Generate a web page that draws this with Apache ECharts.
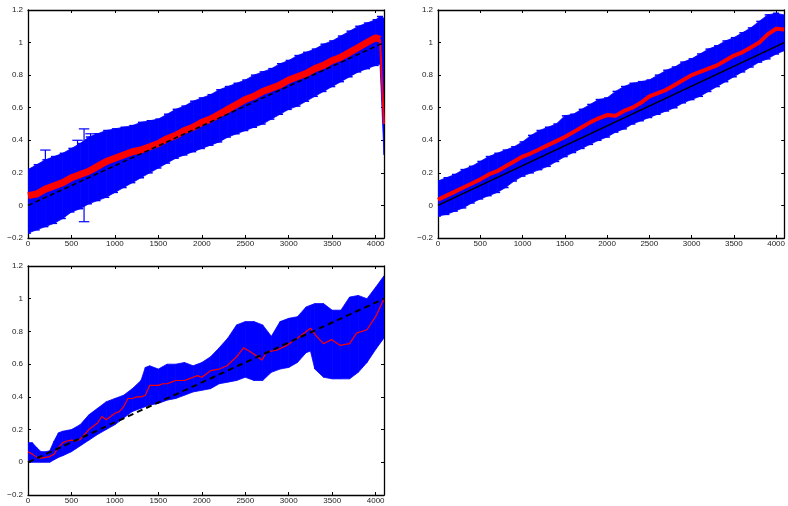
<!DOCTYPE html>
<html>
<head>
<meta charset="utf-8">
<script src="https://cdn.jsdelivr.net/npm/echarts@6/dist/echarts.min.js"></script>
<style>
html,body{margin:0;padding:0;background:#fff;}
#chart{width:788px;height:506px;}
</style>
</head>
<body>
<div id="chart"></div>
<script>
// ---------- tick labels ----------
const xTicks = [0, 500, 1000, 1500, 2000, 2500, 3000, 3500, 4000];
const xTickLabels = ['0', '500', '1000', '1500', '2000', '2500', '3000', '3500', '4000'];
const yTicks = [-0.2, 0, 0.2, 0.4, 0.6, 0.8, 1, 1.2];
const yTickLabels = ['\u22120.2', '0', '0.2', '0.4', '0.6', '0.8', '1', '1.2'];

// ---------- panel 1 (top-left) ----------
const x1 = [0,100,200,300,400,500,600,700,800,900,1000,1100,1200,1300,1400,1500,1600,1700,1800,1900,2000,2100,2200,2300,2400,2500,2600,2700,2800,2900,3000,3100,3200,3300,3400,3500,3600,3700,3800,3900,4000,4050,4096];
const upper1 = [0.22,0.25,0.28,0.30,0.32,0.35,0.38,0.42,0.44,0.46,0.47,0.48,0.49,0.51,0.52,0.53,0.56,0.59,0.61,0.64,0.66,0.68,0.71,0.73,0.75,0.77,0.80,0.82,0.84,0.87,0.89,0.92,0.94,0.96,0.99,1.01,1.04,1.07,1.10,1.12,1.14,1.16,1.15];
const lower1 = [-0.17,-0.15,-0.13,-0.11,-0.08,-0.04,-0.02,0.01,0.03,0.05,0.08,0.11,0.14,0.17,0.20,0.23,0.26,0.29,0.31,0.33,0.35,0.37,0.39,0.42,0.44,0.46,0.48,0.50,0.53,0.56,0.59,0.61,0.64,0.67,0.70,0.73,0.76,0.79,0.82,0.84,0.86,0.87,0.31];
const red1 = [0.06,0.07,0.10,0.12,0.14,0.17,0.19,0.21,0.24,0.27,0.29,0.31,0.33,0.34,0.36,0.38,0.41,0.43,0.46,0.48,0.51,0.53,0.56,0.59,0.62,0.65,0.67,0.70,0.72,0.74,0.77,0.79,0.81,0.84,0.86,0.89,0.91,0.94,0.97,1.00,1.03,1.02,0.50];
const outX1 = [200, 570, 645, 720, 810];
const outLo1 = [0.15, 0.20, -0.10, 0.25, 0.25];
const outHi1 = [0.34, 0.40, 0.47, 0.44, 0.43];

// ---------- panel 2 (top-right) ----------
const x2 = [0,100,200,300,400,500,600,700,800,900,1000,1100,1200,1300,1400,1500,1600,1700,1800,1900,2000,2100,2200,2300,2400,2500,2600,2700,2800,2900,3000,3100,3200,3300,3400,3500,3600,3700,3800,3900,4000,4096];
const upper2 = [0.15,0.17,0.19,0.22,0.24,0.27,0.30,0.32,0.34,0.36,0.39,0.43,0.46,0.48,0.50,0.55,0.56,0.59,0.62,0.65,0.66,0.70,0.73,0.75,0.76,0.77,0.80,0.83,0.85,0.88,0.90,0.93,0.96,0.98,1.01,1.03,1.06,1.09,1.13,1.17,1.18,1.17];
const lower2 = [-0.065,-0.055,-0.035,-0.015,0.015,0.04,0.06,0.08,0.11,0.15,0.18,0.20,0.22,0.24,0.27,0.30,0.325,0.35,0.375,0.40,0.42,0.45,0.47,0.50,0.52,0.54,0.56,0.58,0.60,0.63,0.65,0.67,0.70,0.73,0.76,0.79,0.82,0.85,0.88,0.90,0.93,0.95];
const red2 = [0.035,0.06,0.085,0.11,0.135,0.16,0.19,0.21,0.24,0.27,0.30,0.32,0.345,0.37,0.395,0.42,0.45,0.48,0.51,0.535,0.555,0.55,0.58,0.60,0.63,0.67,0.69,0.71,0.74,0.77,0.80,0.82,0.84,0.86,0.89,0.92,0.94,0.97,1.00,1.05,1.085,1.08];

// ---------- panel 3 (bottom-left) ----------
const x3 = [0,50,100,150,200,250,300,350,400,500,600,700,800,900,1000,1100,1200,1300,1350,1400,1500,1600,1700,1800,1900,2000,2100,2200,2300,2400,2500,2600,2700,2800,2900,3000,3100,3200,3250,3300,3400,3500,3600,3700,3800,3900,4000,4096];
const upper3 = [0.12,0.12,0.09,0.065,0.065,0.07,0.13,0.18,0.19,0.20,0.23,0.29,0.33,0.37,0.39,0.41,0.45,0.50,0.58,0.59,0.57,0.60,0.60,0.61,0.59,0.61,0.645,0.70,0.76,0.84,0.86,0.86,0.84,0.77,0.86,0.88,0.89,0.95,0.96,0.97,0.97,0.93,0.93,1.01,1.02,1.00,1.07,1.14];
const lower3 = [0.0,0.0,0.0,0.0,0.0,0.0,0.015,0.03,0.04,0.065,0.10,0.135,0.17,0.20,0.23,0.27,0.31,0.33,0.34,0.35,0.36,0.38,0.39,0.41,0.43,0.44,0.45,0.48,0.49,0.50,0.52,0.50,0.50,0.55,0.57,0.58,0.61,0.67,0.68,0.57,0.52,0.51,0.51,0.51,0.55,0.61,0.69,0.76];
const x3r = [0,50,100,150,200,250,300,350,400,450,500,550,600,650,700,750,800,850,900,950,1000,1050,1100,1150,1200,1250,1300,1350,1400,1450,1500,1550,1600,1650,1700,1750,1800,1850,1900,1950,2000,2100,2200,2290,2400,2480,2590,2690,2750,2860,2980,3130,3250,3320,3400,3490,3590,3700,3780,3900,4010,4096];
const red3 = [0.065,0.05,0.03,0.025,0.03,0.035,0.05,0.09,0.12,0.13,0.135,0.13,0.14,0.17,0.20,0.22,0.24,0.28,0.26,0.28,0.30,0.31,0.34,0.39,0.39,0.40,0.40,0.41,0.47,0.47,0.47,0.48,0.48,0.49,0.50,0.50,0.50,0.51,0.52,0.53,0.52,0.56,0.57,0.59,0.645,0.70,0.665,0.625,0.675,0.685,0.715,0.77,0.82,0.77,0.725,0.75,0.715,0.725,0.79,0.81,0.90,1.0];

// reference diagonal (same in all panels)
const refX = [0, 4096];
const refY = [0, 1];

// ---------- build ----------
const BLUE = '#0000ff', RED = '#ff0000';
const grids = [
  {left: 28, top: 10, width: 356, height: 228},
  {left: 438, top: 10, width: 356, height: 228},
  {left: 28, top: 266, width: 356, height: 229}
];
const labelFont = {fontSize: 8, color: '#222', fontFamily: 'Liberation Sans, Arial, sans-serif'};

function lookup(ticks, labels) {
  return v => { const i = ticks.findIndex(t => Math.abs(t - v) < 1e-9); return i >= 0 ? labels[i] : ''; };
}

const xAxes = [], yAxes = [];
grids.forEach((g, gi) => {
  ['bottom', 'top'].forEach(pos => {
    xAxes.push({
      gridIndex: gi, type: 'value', min: 0, max: 4096, position: pos,
      axisLine: {show: true, onZero: false, lineStyle: {color: '#000', width: 1.3}},
      axisTick: {show: true, inside: true, length: 3, customValues: xTicks, lineStyle: {color: '#000', width: 1}},
      axisLabel: Object.assign({show: pos === 'bottom', customValues: xTicks, margin: 2,
        formatter: lookup(xTicks, xTickLabels)}, labelFont),
      splitLine: {show: false}
    });
  });
  ['left', 'right'].forEach(pos => {
    yAxes.push({
      gridIndex: gi, type: 'value', min: -0.2, max: 1.2, position: pos,
      axisLine: {show: true, onZero: false, lineStyle: {color: '#000', width: 1.3}},
      axisTick: {show: true, inside: true, length: 3, customValues: yTicks, lineStyle: {color: '#000', width: 1}},
      axisLabel: Object.assign({show: pos === 'left', customValues: yTicks, margin: 5,
        formatter: lookup(yTicks, yTickLabels)}, labelFont),
      splitLine: {show: false}
    });
  });
});

function pairs(xs, ys) { return xs.map((v, i) => [v, ys[i]]); }

// band of trapezoids between successive samples, optionally with error-bar caps
function band(gi, xs, lo, hi, capHalf) {
  const data = [];
  for (let i = 0; i < xs.length - 1; i++) data.push([xs[i], lo[i], hi[i], xs[i + 1], lo[i + 1], hi[i + 1]]);
  return {
    type: 'custom', xAxisIndex: gi * 2, yAxisIndex: gi * 2, clip: true, silent: true,
    encode: {x: [0, 3], y: [1, 2, 4, 5]},
    data: data,
    renderItem: (params, api) => {
      const p1 = api.coord([api.value(0), api.value(1)]);
      const p2 = api.coord([api.value(0), api.value(2)]);
      const p3 = api.coord([api.value(3), api.value(5)]);
      const p4 = api.coord([api.value(3), api.value(4)]);
      const children = [{type: 'polygon', shape: {points: [p1, p2, p3, p4]},
        style: {fill: BLUE, stroke: BLUE, lineWidth: 0.8}}];
      if (capHalf) {
        const w = api.coord([api.value(0) + capHalf, 0])[0] - p1[0];
        children.push({type: 'line', shape: {x1: p2[0] - w, y1: p2[1], x2: p2[0] + w, y2: p2[1]}, style: {stroke: BLUE, lineWidth: 1.5}});
        children.push({type: 'line', shape: {x1: p1[0] - w, y1: p1[1], x2: p1[0] + w, y2: p1[1]}, style: {stroke: BLUE, lineWidth: 1.5}});
      }
      return {type: 'group', children: children};
    }
  };
}

function errBars(gi, xs, lo, hi) {
  return {
    type: 'custom', xAxisIndex: gi * 2, yAxisIndex: gi * 2, clip: true, silent: true,
    encode: {x: 0, y: [1, 2]},
    data: xs.map((v, i) => [v, lo[i], hi[i]]),
    renderItem: (params, api) => {
      const t = api.coord([api.value(0), api.value(2)]);
      const b = api.coord([api.value(0), api.value(1)]);
      const w = api.coord([api.value(0) + 60, 0])[0] - t[0];
      return {type: 'group', children: [
        {type: 'line', shape: {x1: t[0], y1: t[1], x2: b[0], y2: b[1]}, style: {stroke: BLUE, lineWidth: 1.2}},
        {type: 'line', shape: {x1: t[0] - w, y1: t[1], x2: t[0] + w, y2: t[1]}, style: {stroke: BLUE, lineWidth: 1.2}},
        {type: 'line', shape: {x1: b[0] - w, y1: b[1], x2: b[0] + w, y2: b[1]}, style: {stroke: BLUE, lineWidth: 1.2}}
      ]};
    }
  };
}

function lineSeries(gi, xs, ys, color, width, dash) {
  return {
    type: 'line', xAxisIndex: gi * 2, yAxisIndex: gi * 2, showSymbol: false, symbol: 'none',
    silent: true, animation: false, clip: true,
    data: pairs(xs, ys),
    lineStyle: {color: color, width: width, type: dash || 'solid'}
  };
}

const n1 = x1.length;
const series = [
  band(0, x1, lower1, upper1, 35),
  errBars(0, outX1, outLo1, outHi1),
  lineSeries(0, x1.slice(0, n1 - 1), red1.slice(0, n1 - 1), RED, 7),
  lineSeries(0, x1.slice(n1 - 2), red1.slice(n1 - 2), RED, 2),
  lineSeries(0, refX, refY, '#000', 1.5, [5, 3]),

  band(1, x2, lower2, upper2, 35),
  lineSeries(1, x2, red2, RED, 4),
  lineSeries(1, refX, refY, '#000', 1.5),

  band(2, x3, lower3, upper3, 0),
  lineSeries(2, x3r, red3, RED, 1.2),
  lineSeries(2, refX, refY, '#000', 2, [6, 4])
];

const chart = echarts.init(document.getElementById('chart'), null, {renderer: 'canvas'});
chart.setOption({
  animation: false,
  backgroundColor: '#fff',
  grid: grids,
  xAxis: xAxes,
  yAxis: yAxes,
  series: series
});
</script>
</body>
</html>
